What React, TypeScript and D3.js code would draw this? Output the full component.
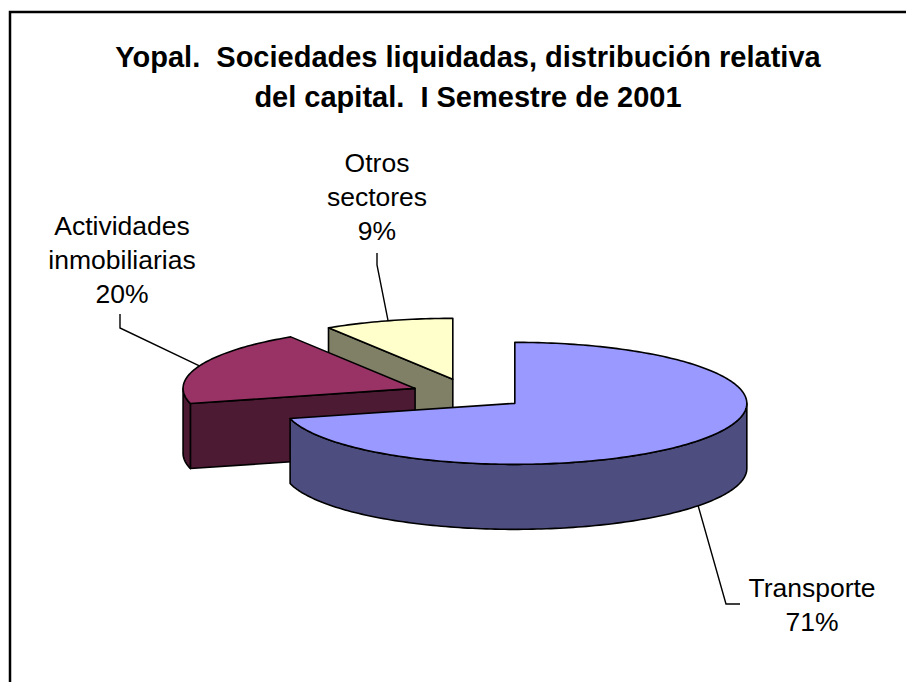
import { useEffect, useRef } from 'react'
import * as d3 from 'd3'

// data
const categories = ['Transporte', 'Actividades inmobiliarias', 'Otros sectores']
const categoryLines = [['Transporte'], ['Actividades', 'inmobiliarias'], ['Otros', 'sectores']]
const shares = [71, 20, 9]
const topColors = ['#9999FF', '#993366', '#FFFFCC']
const titleLines = [
  'Yopal.  Sociedades liquidadas, distribución relativa',
  'del capital.  I Semestre de 2001',
]

const FONT = '"Liberation Sans", Arial, Helvetica, sans-serif'

export default function App() {
  const svgRef = useRef<SVGSVGElement>(null)

  useEffect(() => {
    if (!svgRef.current) return
    const svg = d3.select(svgRef.current)
    svg.selectAll('*').remove()

    const width = 906
    const height = 682

    // 3d pie projection
    const cx = 469
    const cy = 394
    const rx = 232
    const ry = 61
    const depth = 65
    const explode = 0.25

    // label placement (center x, first baseline, leader elbow points)
    const labelLayout = [
      { x: 812, y: 597, elbow: [[726, 604], [740, 604]] },
      { x: 122, y: 235, elbow: [[120, 328], [120, 314]] },
      { x: 377, y: 172, elbow: [[377, 265], [377, 253]] },
    ]
    const lineGap = 34

    svg.append('rect')
      .attr('x', 0).attr('y', 0)
      .attr('width', width).attr('height', height)
      .attr('fill', '#fff')

    // chart frame, runs off the right and bottom edges
    svg.append('rect')
      .attr('x', 10).attr('y', 12)
      .attr('width', 1000).attr('height', 1000)
      .attr('fill', 'none')
      .attr('stroke', '#000')
      .attr('stroke-width', 2.5)

    // title
    svg.append('g')
      .selectAll('text')
      .data(titleLines)
      .join('text')
      .attr('x', 468)
      .attr('y', (d, i) => 67 + i * 40)
      .attr('text-anchor', 'middle')
      .attr('font-family', FONT)
      .attr('font-weight', 'bold')
      .attr('font-size', 29)
      .style('white-space', 'pre')
      .text(d => d)

    const pie = d3.pie<number>().sort(null).value(d => d)
    const arcs = pie(shares)

    const slices = arcs.map((a, i) => {
      const mid = (a.startAngle + a.endAngle) / 2
      const ox = cx + explode * rx * Math.sin(mid)
      const oy = cy - explode * ry * Math.cos(mid)
      return { a, i, mid, ox, oy }
    })

    const line = d3.line<[number, number]>()

    const pieG = svg.append('g')
      .attr('stroke', '#000')
      .attr('stroke-width', 1.6)
      .attr('stroke-linejoin', 'round')

    // back slices first
    const ordered = [...slices].sort((p, q) => p.oy - q.oy)

    ordered.forEach(s => {
      const pt = (ang: number, dz = 0): [number, number] =>
        [s.ox + rx * Math.sin(ang), s.oy - ry * Math.cos(ang) + dz]
      const rim = (a0: number, a1: number, dz = 0) => {
        const n = Math.max(2, Math.ceil(Math.abs(a1 - a0) / 0.02))
        return d3.range(n + 1).map(j => pt(a0 + (a1 - a0) * j / n, dz))
      }
      const apex: [number, number] = [s.ox, s.oy]
      const apexLow: [number, number] = [s.ox, s.oy + depth]
      const top = topColors[s.i]
      const c = d3.rgb(top)
      const side = d3.rgb(c.r / 2, c.g / 2, c.b / 2).formatHex()
      const { startAngle, endAngle } = s.a

      // cut faces
      if (Math.sin(startAngle) < -1e-6) {
        pieG.append('path')
          .attr('fill', side)
          .attr('d', line([apex, pt(startAngle), pt(startAngle, depth), apexLow]) + 'Z')
      }
      if (Math.sin(endAngle) > 1e-6) {
        pieG.append('path')
          .attr('fill', side)
          .attr('d', line([apex, pt(endAngle), pt(endAngle, depth), apexLow]) + 'Z')
      }

      // outer wall, front half only
      const b0 = Math.max(startAngle, Math.PI / 2)
      const b1 = Math.min(endAngle, Math.PI * 1.5)
      if (b1 > b0) {
        const pts = [...rim(b0, b1), ...rim(b1, b0, depth)]
        pieG.append('path')
          .attr('fill', side)
          .attr('d', line(pts) + 'Z')
      }

      // top face
      pieG.append('path')
        .attr('fill', top)
        .attr('d', line([apex, ...rim(startAngle, endAngle)]) + 'Z')
    })

    // leader lines and labels
    slices.forEach(s => {
      const lay = labelLayout[s.i]
      const front = Math.cos(s.mid) < 0
      const start: [number, number] = [
        s.ox + rx * Math.sin(s.mid),
        s.oy - ry * Math.cos(s.mid) + (front ? depth : 0),
      ]
      svg.append('path')
        .attr('fill', 'none')
        .attr('stroke', '#000')
        .attr('stroke-width', 1.4)
        .attr('d', line([start, ...(lay.elbow as [number, number][])]))

      const lines = [...categoryLines[s.i], `${shares[s.i]}%`]
      svg.append('g')
        .attr('aria-label', categories[s.i])
        .selectAll('text')
        .data(lines)
        .join('text')
        .attr('x', lay.x)
        .attr('y', (d, j) => lay.y + j * lineGap)
        .attr('text-anchor', 'middle')
        .attr('font-family', FONT)
        .attr('font-size', 26.5)
        .attr('fill', '#000')
        .text(d => d)
    })
  }, [])

  return (
    <svg
      ref={svgRef}
      width={906}
      height={682}
      style={{ position: 'absolute', left: 0, top: 0, display: 'block' }}
    />
  )
}
